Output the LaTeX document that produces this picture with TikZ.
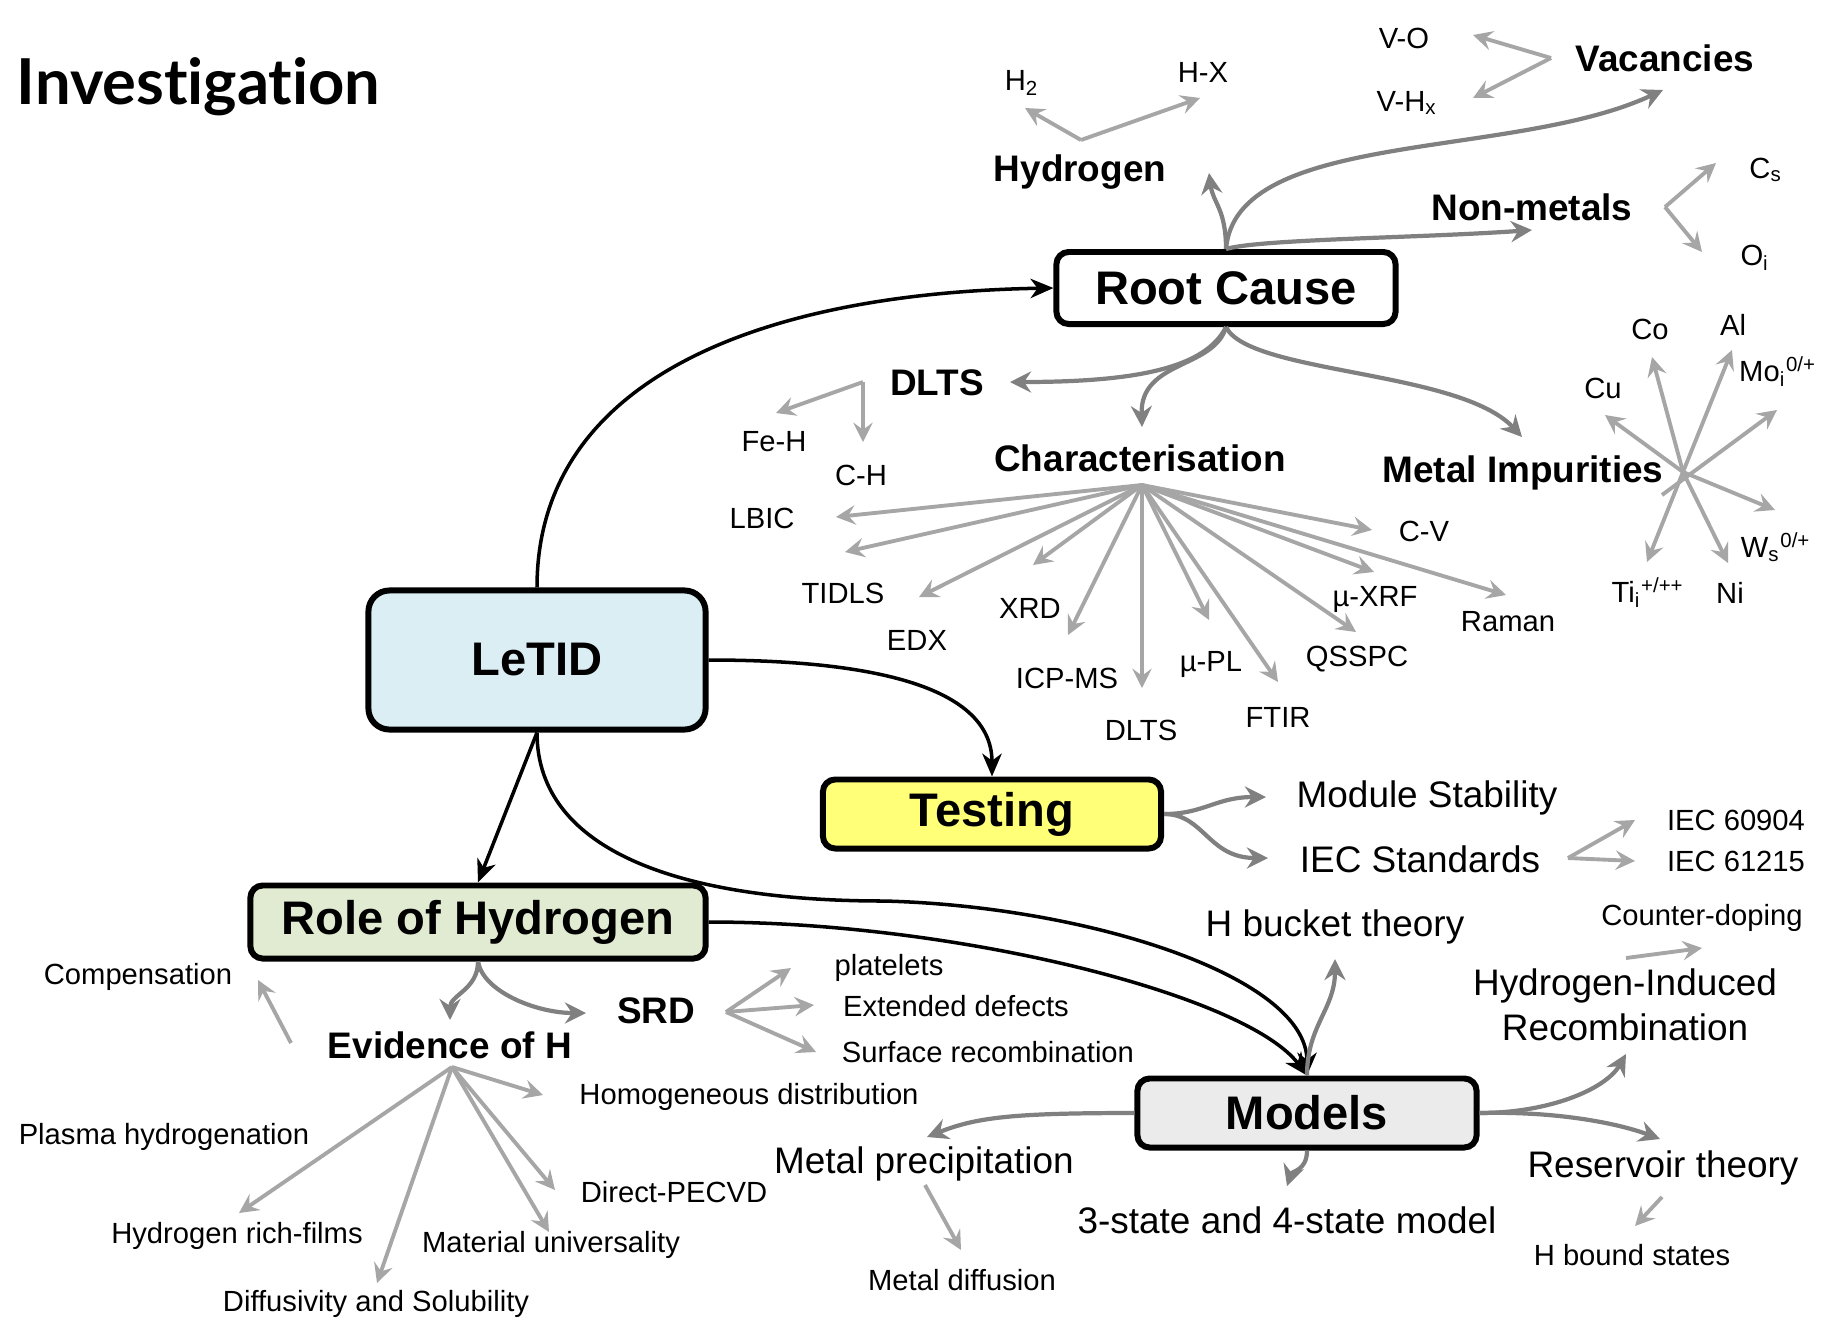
\documentclass[tikz,border=0pt]{standalone}
\usepackage{fontspec}
\setmainfont{Liberation Sans}
\newfontfamily\titlefont[Ligatures=NoCommon]{Lato}
\usetikzlibrary{arrows.meta}

\definecolor{letidblue}{HTML}{DAEEF3}
\definecolor{testyellow}{HTML}{FFFF78}
\definecolor{rohgreen}{HTML}{E0EBD1}
\definecolor{modgray}{HTML}{EBEBEB}
\definecolor{branchgray}{HTML}{808080}
\definecolor{leafgray}{HTML}{A6A6A6}

\tikzset{
  bigbox/.style={draw, line width=1.7pt, rounded corners=3.5pt, inner sep=0pt,
    font=\fontsize{13.4}{16}\selectfont\bfseries},
  headlbl/.style={inner sep=0pt, font=\fontsize{10.5}{12.8}\selectfont\bfseries},
  midlbl/.style={inner sep=0pt, align=center, font=\fontsize{10.5}{12.8}\selectfont},
  smalllbl/.style={inner sep=0pt, font=\fontsize{8.3}{10}\selectfont},
  blackarrow/.style={-{Stealth[length=6.5pt,width=5.5pt,inset=2pt]}, line width=1pt},
  grayarrow/.style={-{Stealth[length=6pt,width=6pt,inset=2pt]}, line width=1.2pt, branchgray},
  leafarrow/.style={-{Stealth[length=5.5pt,width=5.5pt,inset=2pt]}, line width=1.1pt, leafgray},
}

\begin{document}
\begin{tikzpicture}[x=0.01cm, y=-0.01cm]
\useasboundingbox (0,0) rectangle (1823,1320);

% Title
\node[anchor=base west, inner sep=0pt, font=\titlefont\fontsize{18}{20}\selectfont\bfseries] (title) at (16,104) {Investigation};

% Main boxes
\node[bigbox, fill=white, minimum width=3.39cm, minimum height=0.72cm] (rootcause) at (1226,288) {Root Cause};
\node[bigbox, fill=letidblue, rounded corners=6pt, minimum width=3.37cm, minimum height=1.39cm] (letid) at (537,660) {LeTID};
\node[bigbox, fill=testyellow, minimum width=3.38cm, minimum height=0.69cm] (testing) at (992,814) {Testing};
\node[bigbox, fill=rohgreen, minimum width=4.55cm, minimum height=0.73cm] (roh) at (478,922) {Role of Hydrogen};
\node[bigbox, fill=modgray, minimum width=3.39cm, minimum height=0.69cm] (models) at (1307,1113) {Models};

% Second level headings
\node[headlbl] (hydrogen) at (1080,172) {Hydrogen};
\node[headlbl] (vacancies) at (1665,58) {Vacancies};
\node[headlbl] (nonmetals) at (1532,207) {Non-metals};
\node[headlbl] (dlts) at (937,383) {DLTS};
\node[headlbl] (charac) at (1140,458) {Characterisation};
\node[headlbl] (metals) at (1523,473) {Metal Impurities};
\node[headlbl] (srd) at (656,1011) {SRD};
\node[headlbl] (evid) at (450,1045) {Evidence of H};

\node[midlbl] (modstab) at (1427,798) {Module Stability};
\node[midlbl] (iecstd) at (1420,859) {IEC Standards};
\node[midlbl] (hbucket) at (1335,927) {H bucket theory};
\node[midlbl] (hir) at (1625,1005) {Hydrogen-Induced\\Recombination};
\node[midlbl] (metprec) at (924,1164) {Metal precipitation};
\node[midlbl] (three) at (1287,1220) {3-state and 4-state model};
\node[midlbl] (resv) at (1663,1168) {Reservoir theory};

% Leaves
\node[smalllbl] (htwo) at (1022,83) {H\textsubscript{2}};
\node[smalllbl] (hx) at (1203,72) {H-X};
\node[smalllbl] (vo) at (1404,38) {V-O};
\node[smalllbl] (vhx) at (1407,103) {V-H\textsubscript{x}};
\node[smalllbl] (cs) at (1766,170) {C\textsubscript{s}};
\node[smalllbl] (oi) at (1755,258) {O\textsubscript{i}};
\node[smalllbl] (feh) at (774,442) {Fe-H};
\node[smalllbl] (ch) at (861,475) {C-H};
\node[smalllbl] (lbic) at (762,518) {LBIC};
\node[smalllbl] (tidls) at (843,593) {TIDLS};
\node[smalllbl] (edx) at (917,640) {EDX};
\node[smalllbl] (xrd) at (1030,608) {XRD};
\node[smalllbl] (icpms) at (1067,678) {ICP-MS};
\node[smalllbl] (dltsb) at (1141,730) {DLTS};
\node[smalllbl] (mupl) at (1211,664) {µ-PL};
\node[smalllbl] (ftir) at (1278,717) {FTIR};
\node[smalllbl] (qsspc) at (1357,659) {QSSPC};
\node[smalllbl] (muxrf) at (1375,599) {µ-XRF};
\node[smalllbl] (cv) at (1424,531) {C-V};
\node[smalllbl] (raman) at (1508,622) {Raman};
\node[smalllbl] (cu) at (1603,388) {Cu};
\node[smalllbl] (co) at (1650,329) {Co};
\node[smalllbl] (al) at (1733,325) {Al};
\node[smalllbl] (mo) at (1778,372) {Mo\textsubscript{i}\textsuperscript{0/+}};
\node[smalllbl] (ws) at (1776,547) {W\textsubscript{s}\textsuperscript{0/+}};
\node[smalllbl] (ni) at (1730,593) {Ni};
\node[smalllbl] (ti) at (1648,593) {Ti\textsubscript{i}\textsuperscript{+/++}};
\node[smalllbl] (iecA) at (1736,820) {IEC 60904};
\node[smalllbl] (iecB) at (1736,861) {IEC 61215};
\node[smalllbl] (counter) at (1702,918) {Counter-doping};
\node[smalllbl] (hbound) at (1632,1255) {H bound states};
\node[smalllbl] (compens) at (138,977) {Compensation};
\node[smalllbl] (platelets) at (889,968) {platelets};
\node[smalllbl] (extdef) at (956,1006) {Extended defects};
\node[smalllbl] (surfrec) at (988,1052) {Surface recombination};
\node[smalllbl] (homog) at (749,1097) {Homogeneous distribution};
\node[smalllbl] (plasma) at (164,1137) {Plasma hydrogenation};
\node[smalllbl] (direct) at (674,1192) {Direct-PECVD};
\node[smalllbl] (hrich) at (237,1236) {Hydrogen rich-films};
\node[smalllbl] (matuni) at (551,1245) {Material universality};
\node[smalllbl] (metdiff) at (962,1280) {Metal diffusion};
\node[smalllbl] (diffus) at (376,1304) {Diffusivity and Solubility};

% Branch points and free ends
\coordinate (hydhub) at (1081,140);
\coordinate (vachub) at (1551,58);
\coordinate (nmhub) at (1665,207);
\coordinate (dltshub) at (863,382);
\coordinate (charhub) at (1142,485);
\coordinate (metalhub) at (1683,472);
\coordinate (motail) at (1662,495);
\coordinate (iechub) at (1568,858);
\coordinate (srdhub) at (726,1012);
\coordinate (evidhub) at (452,1067);
\coordinate (hydtip) at (1209,173);
\coordinate (vactip) at (1663,90);
\coordinate (nmtip) at (1532,230);
\coordinate (dltstip) at (1010,382);
\coordinate (chartip) at (1142,427);
\coordinate (metaltip) at (1522,437);
\coordinate (modtip) at (1266,797);
\coordinate (iecstdtip) at (1268,858);
\coordinate (hbuckettip) at (1335,959);
\coordinate (hirtip) at (1626,1054);
\coordinate (resvtip) at (1660,1139);
\coordinate (metprectip) at (927,1137);
\coordinate (threetip) at (1287,1186);
\coordinate (evidtip) at (450,1020);
\coordinate (srdtip) at (586,1013);
\coordinate (countertail) at (1626,958);
\coordinate (countertip) at (1702,948);
\coordinate (hboundtail) at (1662,1197);
\coordinate (hboundtip) at (1635,1226);
\coordinate (compenstail) at (291,1043);
\coordinate (compenstip) at (258,980);
\coordinate (metdifftail) at (925,1185);
\coordinate (metdifftip) at (961,1250);

% LeTID links
\draw[blackarrow] (letid.north) .. controls +(0,-210) and +(-290,5) .. (rootcause.west);
\draw[blackarrow] (letid.east) .. controls +(130,0) and +(0,-100) .. (testing.north);
\draw[blackarrow] (letid.south) -- (roh.north);
\draw[blackarrow] (letid.south) .. controls +(0,120) and +(-200,0) .. (884,901)
  .. controls +(200,5) and +(0,-100) .. (models.north);
\draw[blackarrow] (roh.east) .. controls +(250,0) and +(-60,-80) .. (models.north);

% Root Cause branches
\draw[grayarrow] (rootcause.north) .. controls +(0,-40) and +(4,30) .. (hydtip);
\draw[grayarrow] (rootcause.north) .. controls +(10,-120) and +(-150,70) .. (vactip);
\draw[grayarrow] (rootcause.north) .. controls +(34,-10) and +(-112,8) .. (nmtip);
\draw[grayarrow] (rootcause.south) .. controls +(-20,40) and +(130,0) .. (dltstip);
\draw[grayarrow] (rootcause.south) .. controls +(-12,42) and +(-2,-67) .. (chartip);
\draw[grayarrow] (rootcause.south) .. controls +(23,47) and +(-62,-67) .. (metaltip);

\draw[leafarrow] (hydhub) -- (1025,108);
\draw[leafarrow] (hydhub) -- (1200,98);
\draw[leafarrow] (vachub) -- (1473,35);
\draw[leafarrow] (vachub) -- (1473,98);
\draw[leafarrow] (nmhub) -- (1716,163);
\draw[leafarrow] (nmhub) -- (1702,252);
\draw[leafarrow] (dltshub) -- (776,413);
\draw[leafarrow] (dltshub) -- (863,442);

% Characterisation fan
\foreach \n/\tx/\ty in {lbic/836/517, tidls/845/552, edx/919/597, xrd/1033/565,
    icpms/1068/635, dltsb/1142/688, mupl/1209/620, ftir/1278/682,
    qsspc/1356/632, muxrf/1374/572, cv/1372/530, raman/1506/595}{
  \coordinate (t-\n) at (\tx,\ty);
  \draw[leafarrow] (charhub) -- (t-\n);
}

% Metal star
\foreach \n/\tx/\ty in {cu/1605/415, co/1652/357, al/1732/350,
    ws/1775/510, ni/1728/563, ti/1647/562}{
  \coordinate (t-\n) at (\tx,\ty);
  \draw[leafarrow] (metalhub) -- (t-\n);
}
\draw[leafarrow] (motail) -- (1777,410);

% Testing branches
\draw[grayarrow] (testing.east) .. controls +(40,0) and +(-50,0) .. (modtip);
\draw[grayarrow] (testing.east) .. controls +(40,0) and +(-60,0) .. (iecstdtip);
\draw[leafarrow] (iechub) -- (1635,820);
\draw[leafarrow] (iechub) -- (1635,861);

% Models branches
\draw[grayarrow] (models.north) .. controls +(0,-50) and +(0,50) .. (hbuckettip);
\draw[grayarrow] (models.west) .. controls +(-120,0) and +(50,-20) .. (metprectip);
\draw[grayarrow] (models.south) .. controls +(0,20) and +(5,-15) .. (threetip);
\draw[grayarrow] (models.east) .. controls +(70,0) and +(-20,35) .. (hirtip);
\draw[grayarrow] (models.east) .. controls +(80,-2) and +(-40,-15) .. (resvtip);
\draw[leafarrow] (countertail) -- (countertip);
\draw[leafarrow] (hboundtail) -- (hboundtip);
\draw[leafarrow] (metdifftail) -- (metdifftip);

% Role of Hydrogen branches
\draw[grayarrow] (roh.south) .. controls +(0,28) and +(0,-25) .. (evidtip);
\draw[grayarrow] (roh.south) .. controls +(5,30) and +(-50,0) .. (srdtip);
\draw[leafarrow] (compenstail) -- (compenstip);
\draw[leafarrow] (srdhub) -- (791,968);
\draw[leafarrow] (srdhub) -- (814,1005);
\draw[leafarrow] (srdhub) -- (816,1052);
\foreach \n/\tx/\ty in {homog/543/1095, direct/555/1190, matuni/549/1232,
    diffus/377/1283, hrich/239/1213}{
  \coordinate (t-\n) at (\tx,\ty);
  \draw[leafarrow] (evidhub) -- (t-\n);
}
\end{tikzpicture}
\end{document}
